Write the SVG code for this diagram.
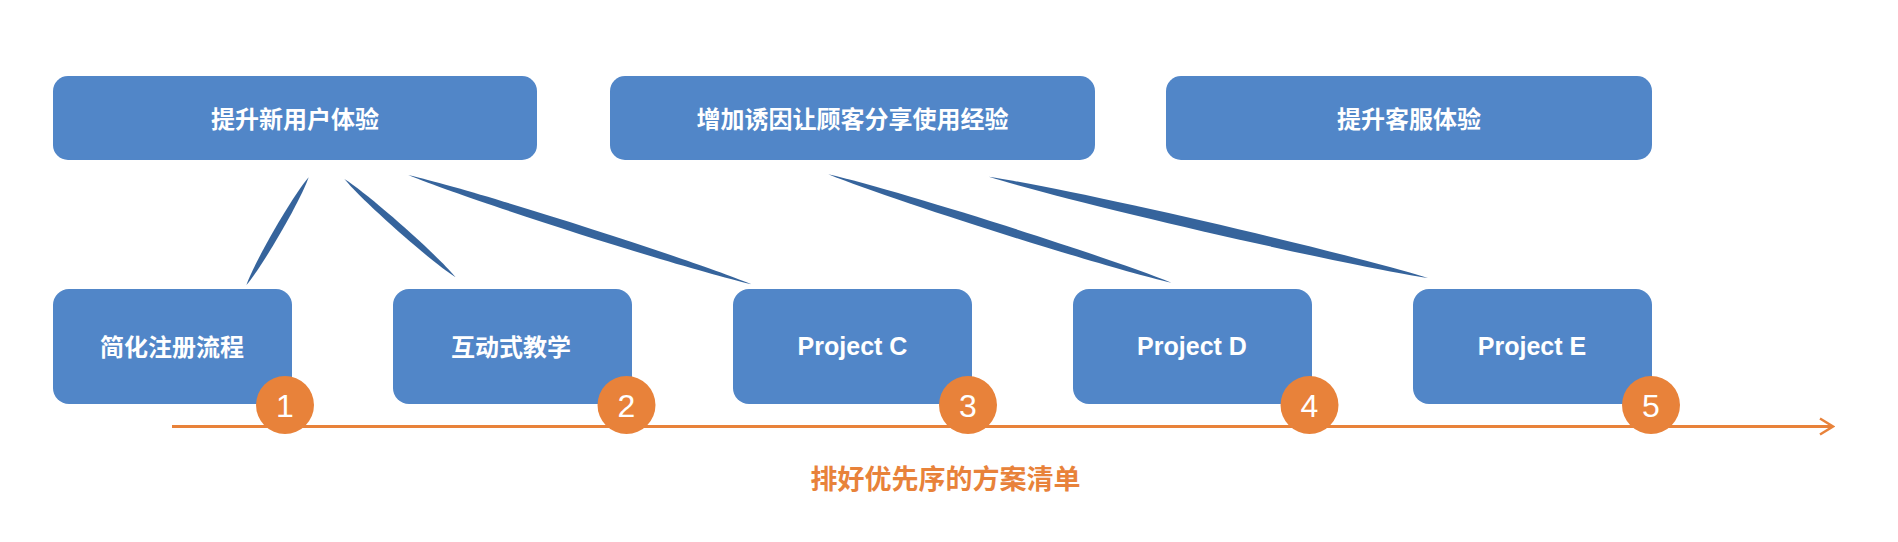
<svg xmlns="http://www.w3.org/2000/svg" width="1898" height="542" viewBox="0 0 1898 542">
<defs>
<style>
.box{fill:#5186C8;}
.t{fill:#ffffff;font-family:"Noto Sans CJK SC","Liberation Sans",sans-serif;font-weight:bold;font-size:24px;text-anchor:middle;dominant-baseline:central;}
.pt{fill:#ffffff;font-family:"Liberation Sans","Noto Sans",sans-serif;font-weight:bold;font-size:25px;text-anchor:middle;dominant-baseline:central;}
.lens{fill:#36649C;}
.num{fill:#E8823A;}
.nt{fill:#ffffff;font-family:"Liberation Sans",sans-serif;font-size:32px;text-anchor:middle;dominant-baseline:central;}
.lbl{fill:#E8823A;font-family:"Noto Sans CJK SC","Liberation Sans",sans-serif;font-weight:bold;font-size:27px;text-anchor:middle;dominant-baseline:central;}
</style>
<marker id="arr" markerWidth="16" markerHeight="20" refX="14" refY="10" orient="auto" markerUnits="userSpaceOnUse">
<path d="M1,2 L14,10 L1,18" fill="none" stroke="#E8823A" stroke-width="2.5"/>
</marker>
</defs>
<rect width="1898" height="542" fill="#ffffff"/>
<g id="connectors">
<path class="lens" d="M308.7,177.3 C300.28,201.18 262.90,265.80 246.4,285 C254.82,261.12 292.20,196.50 308.7,177.3 Z"/>
<path class="lens" d="M344.4,179 C363.55,202.16 430.27,261.14 455.6,277.3 C436.45,254.14 369.73,195.16 344.4,179 Z"/>
<path class="lens" d="M408.2,175 C475.14,202.26 681.12,267.84 751.5,284.3 C684.56,257.04 478.58,191.46 408.2,175 Z"/>
<path class="lens" d="M828.3,174.3 C895.21,201.39 1101.07,266.43 1171.4,282.7 C1104.49,255.61 898.63,190.57 828.3,174.3 Z"/>
<path class="lens" d="M988.8,176.7 C1075.14,203.46 1338.66,264.24 1428,278 C1341.66,251.24 1078.14,190.46 988.8,176.7 Z"/>
<line x1="172" y1="426.5" x2="1833" y2="426.5" stroke="#E8823A" stroke-width="3" marker-end="url(#arr)"/>
</g>
<g id="goal1"><rect class="box" x="53" y="76" width="484" height="84" rx="15"/><text class="t" x="295" y="117">提升新用户体验</text></g>
<g id="goal2"><rect class="box" x="610" y="76" width="485" height="84" rx="15"/><text class="t" x="852.5" y="117">增加诱因让顾客分享使用经验</text></g>
<g id="goal3"><rect class="box" x="1166" y="76" width="486" height="84" rx="15"/><text class="t" x="1409" y="117">提升客服体验</text></g>
<g id="p1"><rect class="box" x="53" y="289" width="239" height="115" rx="16"/><text class="t" x="172" y="345">简化注册流程</text></g>
<g id="p2"><rect class="box" x="393" y="289" width="239" height="115" rx="16"/><text class="t" x="511" y="345">互动式教学</text></g>
<g id="p3"><rect class="box" x="733" y="289" width="239" height="115" rx="16"/><text class="pt" x="852.5" y="346">Project C</text></g>
<g id="p4"><rect class="box" x="1073" y="289" width="239" height="115" rx="16"/><text class="pt" x="1192" y="346">Project D</text></g>
<g id="p5"><rect class="box" x="1413" y="289" width="239" height="115" rx="16"/><text class="pt" x="1532" y="346">Project E</text></g>
<g id="n1"><circle class="num" cx="285" cy="405" r="29"/><text class="nt" x="285" y="406">1</text></g>
<g id="n2"><circle class="num" cx="626.5" cy="405" r="29"/><text class="nt" x="626.5" y="406">2</text></g>
<g id="n3"><circle class="num" cx="968" cy="405" r="29"/><text class="nt" x="968" y="406">3</text></g>
<g id="n4"><circle class="num" cx="1309.5" cy="405" r="29"/><text class="nt" x="1309.5" y="406">4</text></g>
<g id="n5"><circle class="num" cx="1651" cy="405" r="29"/><text class="nt" x="1651" y="406">5</text></g>
<g id="label"><text class="lbl" x="945.5" y="477">排好优先序的方案清单</text></g>
</svg>
